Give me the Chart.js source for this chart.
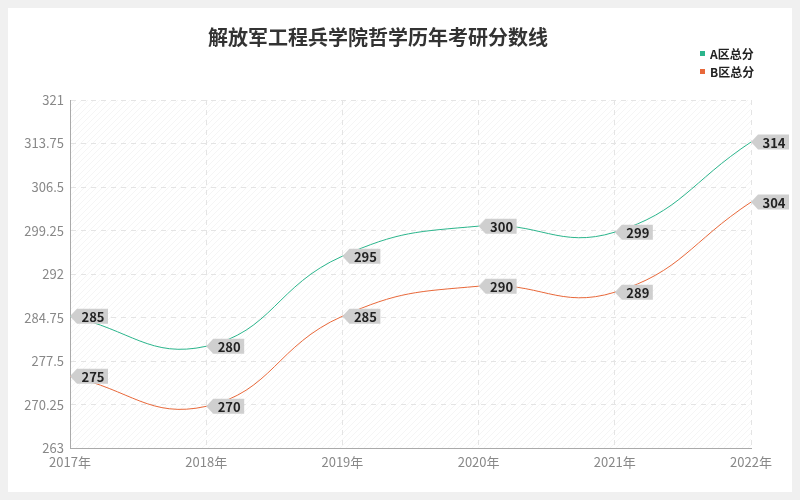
<!DOCTYPE html>
<html><head><meta charset="utf-8">
<script src="https://cdn.jsdelivr.net/npm/chart.js@4"></script>
<style>body{margin:0;background:#f0f0f0}#w{width:800px;height:500px;position:relative}</style>
</head><body><div id="w"><canvas id="c"></canvas></div>
<script>
const years = ['2017年','2018年','2019年','2020年','2021年','2022年'];
const seriesA = [285, 280, 295, 300, 299, 314];
const seriesB = [275, 270, 285, 290, 289, 304];
const yTicks = [263, 270.25, 277.5, 284.75, 292, 299.25, 306.5, 313.75, 321];
const seriesNames = ['A区总分', 'B区总分'];
const colors = ['#2bb58c', '#e8683a'];

const FONT = '"Noto Sans CJK SC", "Noto Sans", sans-serif';

// background, hatched plot area, title and legend
const bgPlugin = {
  id: 'bg',
  beforeDraw(chart) {
    const { ctx, chartArea: a } = chart;
    ctx.save();
    ctx.fillStyle = '#f0f0f0';
    ctx.fillRect(0, 0, chart.width, chart.height);
    ctx.fillStyle = '#fff';
    ctx.fillRect(8, 8, chart.width - 16, chart.height - 16);
    ctx.save();
    ctx.beginPath();
    ctx.rect(a.left, a.top, a.width, a.height);
    ctx.clip();
    ctx.strokeStyle = '#f5f5f5';
    ctx.lineWidth = 1;
    for (let i = -a.height; i < a.width; i += 6) {
      ctx.beginPath();
      ctx.moveTo(a.left + i, a.bottom);
      ctx.lineTo(a.left + i + a.height, a.top);
      ctx.stroke();
    }
    ctx.restore();
    ctx.fillStyle = '#333';
    ctx.font = 'bold 20px ' + FONT;
    ctx.textAlign = 'center';
    ctx.textBaseline = 'middle';
    ctx.fillText('解放军工程兵学院哲学历年考研分数线', 378, 37);
    // legend box
    ctx.fillStyle = '#fff';
    ctx.fillRect(690, 44, 84, 40);
    ctx.font = 'bold 12px ' + FONT;
    ctx.textAlign = 'left';
    seriesNames.forEach((n, i) => {
      ctx.fillStyle = colors[i];
      ctx.fillRect(700, 53 + i * 18 - 2, 5, 5);
      ctx.fillStyle = '#222';
      ctx.fillText(n, 710, 54 + i * 18);
    });
    ctx.restore();
  }
};

// arrow tags with values
const tagPlugin = {
  id: 'tags',
  afterDatasetsDraw(chart) {
    const { ctx } = chart;
    ctx.save();
    ctx.font = 'bold 13px ' + FONT;
    ctx.textBaseline = 'middle';
    chart.data.datasets.forEach((ds, di) => {
      chart.getDatasetMeta(di).data.forEach((pt, i) => {
        const x = pt.x, y = pt.y, w = 38, h = 15;
        ctx.beginPath();
        ctx.moveTo(x, y);
        ctx.lineTo(x + 7, y - h / 2);
        ctx.lineTo(x + w, y - h / 2);
        ctx.lineTo(x + w, y + h / 2);
        ctx.lineTo(x + 7, y + h / 2);
        ctx.closePath();
        ctx.fillStyle = '#cfcfcf';
        ctx.fill();
        ctx.fillStyle = '#222';
        ctx.textAlign = 'center';
        ctx.fillText(ds.data[i], x + 23, y + 1);
      });
    });
    ctx.restore();
  }
};

new Chart(document.getElementById('c'), {
  type: 'line',
  data: {
    labels: years,
    datasets: [
      { label: seriesNames[0], data: seriesA, borderColor: colors[0], backgroundColor: colors[0], borderWidth: 1, pointRadius: 0, tension: 0.45 },
      { label: seriesNames[1], data: seriesB, borderColor: colors[1], backgroundColor: colors[1], borderWidth: 1, pointRadius: 0, tension: 0.45 }
    ]
  },
  options: {
    responsive: true, maintainAspectRatio: false, animation: false,
    layout: { padding: { left: 0, right: 49, top: 100, bottom: 24 } },
    scales: {
      x: {
        offset: false,
        grid: { color: '#e4e4e4', drawTicks: false },
        border: { color: '#aaa', dash: [5, 5] },
        ticks: { color: '#888', font: { size: 13, family: FONT }, padding: 6 }
      },
      y: {
        min: 263, max: 321,
        afterBuildTicks: (s) => { s.ticks = yTicks.map(v => ({ value: v })); },
        afterFit: (s) => { s.width = 70; },
        grid: { color: '#e4e4e4', drawTicks: false },
        border: { color: '#aaa', dash: [5, 5] },
        ticks: { color: '#888', font: { size: 13, family: FONT }, padding: 6, callback: (v) => String(v) }
      }
    },
    plugins: {
      title: { display: false },
      legend: { display: false },
      tooltip: { enabled: false }
    }
  },
  plugins: [bgPlugin, tagPlugin]
});
</script></body></html>
